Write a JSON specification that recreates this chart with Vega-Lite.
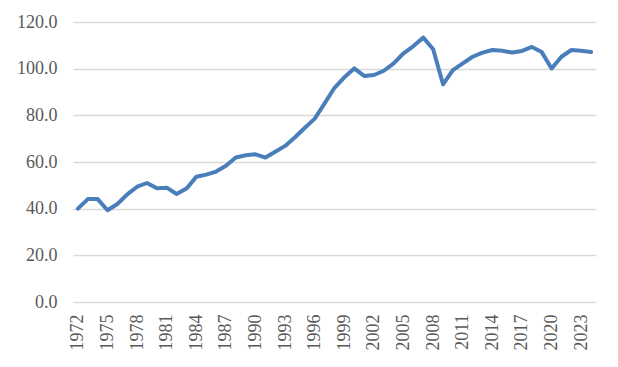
{
  "$schema": "https://vega.github.io/schema/vega-lite/v6.json",
  "width": 523,
  "height": 280,
  "autosize": {"type": "none"},
  "padding": {"left": 73, "top": 22, "right": 22, "bottom": 65},
  "background": "white",
  "config": {"view": {"stroke": null}},
  "data": {"values": [
    {"year": 1972, "value": 40.0},
    {"year": 1973, "value": 44.1},
    {"year": 1974, "value": 44.1},
    {"year": 1975, "value": 39.3},
    {"year": 1976, "value": 42.0},
    {"year": 1977, "value": 46.1},
    {"year": 1978, "value": 49.4},
    {"year": 1979, "value": 51.0},
    {"year": 1980, "value": 48.7},
    {"year": 1981, "value": 49.0},
    {"year": 1982, "value": 46.3},
    {"year": 1983, "value": 48.6},
    {"year": 1984, "value": 53.7},
    {"year": 1985, "value": 54.6},
    {"year": 1986, "value": 55.9},
    {"year": 1987, "value": 58.4},
    {"year": 1988, "value": 61.9},
    {"year": 1989, "value": 62.9},
    {"year": 1990, "value": 63.3},
    {"year": 1991, "value": 61.9},
    {"year": 1992, "value": 64.4},
    {"year": 1993, "value": 66.9},
    {"year": 1994, "value": 70.6},
    {"year": 1995, "value": 74.7},
    {"year": 1996, "value": 78.6},
    {"year": 1997, "value": 85.1},
    {"year": 1998, "value": 91.8},
    {"year": 1999, "value": 96.3},
    {"year": 2000, "value": 100.1},
    {"year": 2001, "value": 96.9},
    {"year": 2002, "value": 97.3},
    {"year": 2003, "value": 99.1},
    {"year": 2004, "value": 102.3},
    {"year": 2005, "value": 106.6},
    {"year": 2006, "value": 109.7},
    {"year": 2007, "value": 113.3},
    {"year": 2008, "value": 108.3},
    {"year": 2009, "value": 93.3},
    {"year": 2010, "value": 99.4},
    {"year": 2011, "value": 102.3},
    {"year": 2012, "value": 105.1},
    {"year": 2013, "value": 106.9},
    {"year": 2014, "value": 108.0},
    {"year": 2015, "value": 107.7},
    {"year": 2016, "value": 106.9},
    {"year": 2017, "value": 107.6},
    {"year": 2018, "value": 109.3},
    {"year": 2019, "value": 107.1},
    {"year": 2020, "value": 100.1},
    {"year": 2021, "value": 105.1},
    {"year": 2022, "value": 108.0},
    {"year": 2023, "value": 107.7},
    {"year": 2024, "value": 107.1}
  ]},
  "mark": {"type": "line", "color": "#4a7ebb", "strokeWidth": 4, "strokeJoin": "round", "strokeCap": "round"},
  "encoding": {
    "x": {
      "field": "year",
      "type": "quantitative",
      "scale": {"domain": [1971.5, 2024.5], "nice": false, "zero": false},
      "axis": {
        "title": null,
        "values": [1972, 1975, 1978, 1981, 1984, 1987, 1990, 1993, 1996, 1999, 2002, 2005, 2008, 2011, 2014, 2017, 2020, 2023],
        "format": "d",
        "labelAngle": -90,
        "labelAlign": "right",
        "labelBaseline": "middle",
        "labelPadding": 12,
        "labelFont": "Liberation Serif",
        "labelFontSize": 18,
        "labelColor": "#595959",
        "labelOverlap": false,
        "labelFlush": false,
        "ticks": false,
        "domain": false,
        "grid": false
      }
    },
    "y": {
      "field": "value",
      "type": "quantitative",
      "scale": {"domain": [0, 120], "nice": false},
      "axis": {
        "title": null,
        "values": [0, 20, 40, 60, 80, 100, 120],
        "format": ".1f",
        "labelFont": "Liberation Serif",
        "labelFontSize": 18,
        "labelColor": "#595959",
        "labelPadding": 16,
        "ticks": false,
        "domain": false,
        "grid": true,
        "gridColor": "#d9d9d9",
        "gridWidth": 1.5
      }
    }
  }
}
